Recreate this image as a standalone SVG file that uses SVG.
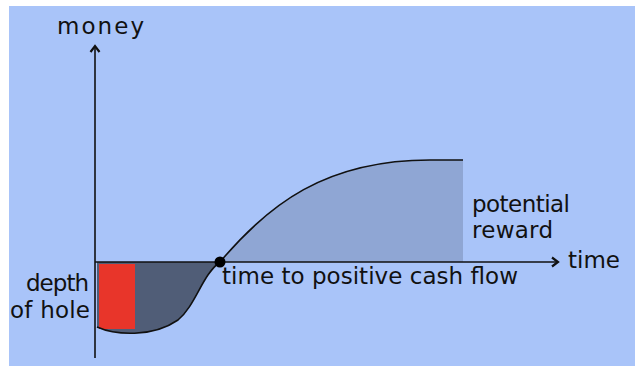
<svg xmlns="http://www.w3.org/2000/svg" width="635" height="367" viewBox="0 0 635 367">
<style>
.t{font-family:"DejaVu Sans","Liberation Sans",sans-serif;font-size:23px;fill:#111}
.ax{stroke:#111;stroke-width:1.6;fill:none}
</style>
<defs>
<marker id="arr" markerWidth="12" markerHeight="12" refX="9" refY="6" orient="auto" markerUnits="userSpaceOnUse">
<path d="M3,1.5 L9,6 L3,10.5" fill="none" stroke="#111" stroke-width="2.2"/>
</marker>
</defs>
<rect width="635" height="367" fill="#ffffff"/>
<rect x="9" y="6" width="626" height="360" fill="#a9c4f9"/>
<g id="reward-area">
<path d="M220,262 C268,205 325,160 430,160 L463,160 L463,262 Z" fill="#8fa6d4"/>
</g>
<g id="hole-area">
<path d="M97,262 L97,327 C115,335 152,338 178,320 C196,305 202,275 220,262 Z" fill="#505d77"/>
<rect x="99" y="264" width="36" height="65" fill="#e8352a"/>
</g>
<g id="connectors">
<line class="ax" x1="95" y1="358" x2="95" y2="46" marker-end="url(#arr)"/>
<line class="ax" x1="95" y1="262" x2="558" y2="262" marker-end="url(#arr)"/>
<path class="ax" d="M97,327 C115,335 152,338 178,320 C196,305 202,275 220,262 C268,205 325,160 430,160 L463,160" stroke="#333a4a" stroke-width="2"/>
</g>
<g id="crossing">
<circle cx="220" cy="262" r="5.5" fill="#000"/>
</g>
<g id="labels">
<text class="t" x="57" y="34" textLength="87" lengthAdjust="spacing">money</text>
<text class="t" x="568" y="268" textLength="52" lengthAdjust="spacing">time</text>
<text class="t" x="222" y="284" textLength="296" lengthAdjust="spacing">time to positive cash flow</text>
<text class="t" x="26" y="291" textLength="63" lengthAdjust="spacing">depth</text>
<text class="t" x="10" y="318" textLength="80" lengthAdjust="spacing">of hole</text>
<text class="t" x="472" y="212" textLength="98" lengthAdjust="spacing">potential</text>
<text class="t" x="472" y="238" textLength="81" lengthAdjust="spacing">reward</text>
</g>
</svg>
